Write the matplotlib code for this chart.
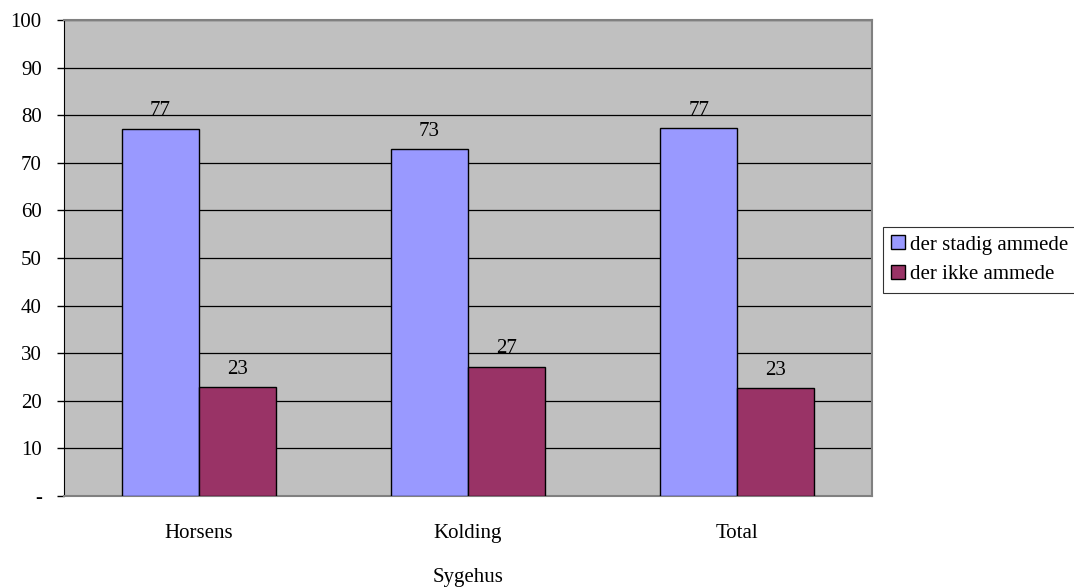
import matplotlib
matplotlib.use("Agg")
import matplotlib.pyplot as plt
import numpy as np

categories = ["Horsens", "Kolding", "Total"]
series_names = ["der stadig ammede", "der ikke ammede"]
stadig = [77.2, 72.8, 77.3]
ikke = [22.8, 27.2, 22.7]
yticks = [0, 10, 20, 30, 40, 50, 60, 70, 80, 90, 100]
ytick_labels = ["-", "10", "20", "30", "40", "50", "60", "70", "80", "90", "100"]

plt.rcParams['font.family'] = ['Liberation Serif', 'DejaVu Serif']
FS = 15

fig = plt.figure(figsize=(10.74, 5.88), dpi=100)
W, H = 1074, 588
ax = fig.add_axes([64 / W, 1 - 496 / H, (872 - 64) / W, (496 - 20) / H])
ax.set_facecolor("#C0C0C0")

x = np.arange(len(categories))
bw = 0.286
b1 = ax.bar(x - bw / 2, stadig, bw, color="#9999FF", edgecolor="black", linewidth=1.0,
            label=series_names[0], zorder=3)
b2 = ax.bar(x + bw / 2, ikke, bw, color="#993366", edgecolor="black", linewidth=1.0,
            label=series_names[1], zorder=3)

for bars, vals in ((b1, stadig), (b2, ikke)):
    for rect, v in zip(bars, vals):
        ax.annotate(f"{v:.0f}", (rect.get_x() + rect.get_width() / 2, v),
                    xytext=(0, 6), textcoords="offset points", ha="center", va="bottom",
                    fontsize=FS, color="black")

ax.set_xlim(-0.5, 2.5)
ax.set_ylim(0, 100)
ax.set_yticks(yticks)
ax.set_yticklabels(ytick_labels, fontsize=FS)
ax.yaxis.grid(True, color="black", linewidth=0.9, zorder=1)
ax.set_axisbelow(True)
ax.set_xticks(x)
ax.set_xticklabels(categories, fontsize=FS)
ax.tick_params(axis="x", length=0, pad=20)
ax.tick_params(axis="y", length=5, width=1, color="black", direction="out", pad=11)
ax.set_xlabel("Sygehus", fontsize=FS, labelpad=18)

for s in ("top", "right"):
    ax.spines[s].set_color("#808080")
    ax.spines[s].set_linewidth(1.5)
ax.spines["left"].set_color("black")
ax.spines["bottom"].set_color("#808080")
ax.spines["bottom"].set_linewidth(1.5)

leg = fig.legend(loc="upper left", bbox_to_anchor=(883 / W, 1 - 227 / H), fontsize=FS,
                 frameon=True, fancybox=False, edgecolor="black", handlelength=0.65,
                 handleheight=0.65, handletextpad=0.25, borderpad=0.4, labelspacing=0.5,
                 borderaxespad=0)
leg.get_frame().set_linewidth(0.8)

fig.savefig("out.png", dpi=100)
